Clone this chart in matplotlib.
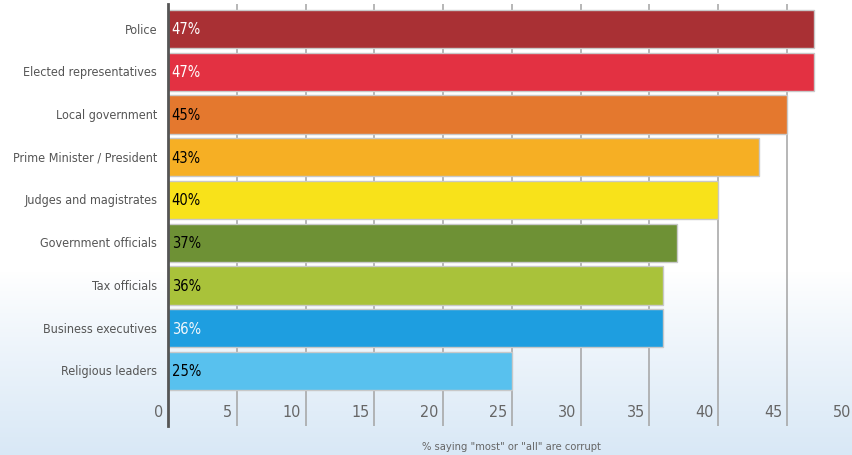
import numpy as np
import matplotlib
matplotlib.use("Agg")
import matplotlib.pyplot as plt
from matplotlib import font_manager
from matplotlib.font_manager import FontProperties

# look for a narrow face; fall back on plain DejaVu Sans
narrow = None
for f in font_manager.fontManager.ttflist:
    if f.name == "DejaVu Sans" and f.stretch == "condensed" and f.weight in (400, "normal") and f.style == "normal":
        narrow = f.fname
        break
if narrow is None:
    for f in font_manager.fontManager.ttflist:
        if ("Narrow" in f.name or "Condensed" in f.name) and f.style == "normal":
            narrow = f.fname
            break


def fp(size):
    if narrow:
        return FontProperties(fname=narrow, size=size)
    return FontProperties(family="DejaVu Sans", size=size * 0.9)


categories = ["Police", "Elected representatives", "Local government",
              "Prime Minister / President", "Judges and magistrates",
              "Government officials", "Tax officials", "Business executives",
              "Religious leaders"]
values = [47, 47, 45, 43, 40, 37, 36, 36, 25]
bar_colors = ["#A93034", "#E33142", "#E4782E", "#F6AF24", "#F8E21A",
              "#6E9135", "#A9C23A", "#1E9EE0", "#58C1EE"]
label_colors = ["white", "white", "black", "black", "black",
                "black", "black", "#f4f8fc", "black"]
xticks = [0, 5, 10, 15, 20, 25, 30, 35, 40, 45, 50]
xlabel = '% saying "most" or "all" are corrupt'

W, H = 853, 456
fig = plt.figure(figsize=(W / 100, H / 100), dpi=100)

# background: white fading into pale blue towards the bottom
bg = fig.add_axes([0, 0, 1, 1], zorder=0)
t = np.linspace(0, 1, 256)
t = np.clip((t - 0.6) / 0.4, 0, 1) ** 0.9
top = np.array([1.0, 1.0, 1.0])
bot = np.array([0.85, 0.91, 0.965])
grad = top[None, :] * (1 - t[:, None]) + bot[None, :] * t[:, None]
bg.imshow(grad[:, None, :], aspect="auto", extent=[0, 1, 0, 1], origin="upper")
bg.axis("off")

x0 = 168.25
ppu = 13.75
left = x0 / W
ax = fig.add_axes([left, 29 / H, 1 - left, 422 / H], zorder=1)
ax.patch.set_alpha(0)

y = np.arange(len(categories))
ax.set_xlim(0, (W - x0) / ppu)
ax.set_ylim(8 + (427 - 372) / 42.75, -(30 - 5) / 42.75)

for v in xticks[1:]:
    ax.axvline(v, color="#a3a3a3", lw=1.1, zorder=1)

ax.barh(y, values, height=0.9, color=bar_colors, edgecolor="#c8c8c8",
        linewidth=1.0, zorder=2)

for yi, v, c in zip(y, values, label_colors):
    ax.text(0.25, yi, f"{v}%", color=c, fontproperties=fp(10.5),
            va="center", ha="left", zorder=3)

for yi, name in zip(y, categories):
    ax.text(-0.8, yi, name, color="#555555", fontproperties=fp(9),
            va="center", ha="right", clip_on=False)

tick_y = 8 + (413 - 372) / 42.75
for v in xticks:
    ax.text(v - 0.35, tick_y, str(v), color="#666666", fontproperties=fp(11.5),
            va="center", ha="right", clip_on=False)

for s in ["top", "right", "bottom"]:
    ax.spines[s].set_visible(False)
ax.spines["left"].set_color("#555555")
ax.spines["left"].set_linewidth(2)
ax.set_xticks([])
ax.set_yticks([])

fig.text(511 / W, 1 - 447 / H, xlabel, color="#666666", fontproperties=fp(8),
         ha="center", va="center")

fig.savefig("out.png", dpi=100)
